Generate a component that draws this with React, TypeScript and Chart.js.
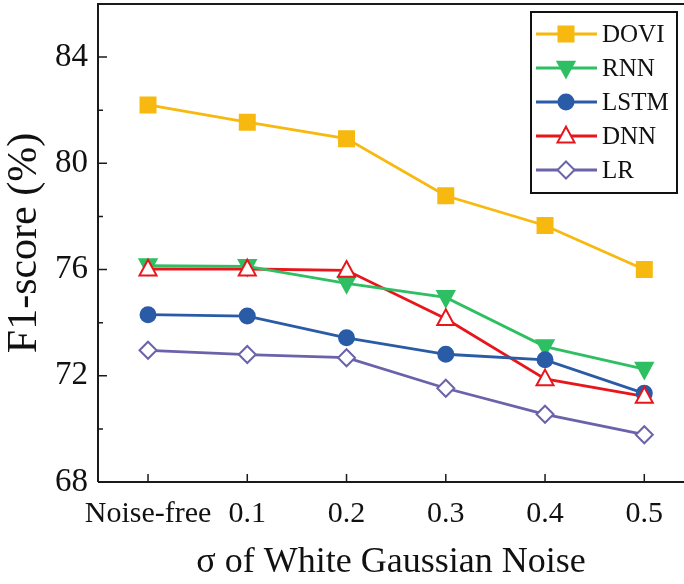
import React, { useEffect, useRef } from "react";
import { Chart, registerables } from "chart.js";

Chart.register(...registerables);

const categories = ["Noise-free", "0.1", "0.2", "0.3", "0.4", "0.5"];
const doviValues = [82.2, 81.55, 80.93, 78.78, 77.66, 76.0];
const rnnValues = [76.15, 76.12, 75.48, 74.95, 73.1, 72.25];
const lstmValues = [74.3, 74.25, 73.43, 72.81, 72.6, 71.34];
const dnnValues = [76.02, 76.02, 75.97, 74.15, 71.88, 71.22];
const lrValues = [72.96, 72.8, 72.68, 71.53, 70.55, 69.78];
const yMajorTicks = [68, 72, 76, 80, 84];
const yMinorTicks = [70, 74, 78, 82];

const FONT = "'Liberation Serif', 'Times New Roman', serif";

function drawMarker(ctx: CanvasRenderingContext2D, style: string, x: number, y: number, r: number, fill: string, stroke: string, lw: number) {
  ctx.save();
  ctx.beginPath();
  if (style === "rect") {
    ctx.rect(x - r, y - r, 2 * r, 2 * r);
  } else if (style === "circle") {
    ctx.arc(x, y, r, 0, Math.PI * 2);
  } else if (style === "triUp") {
    ctx.moveTo(x, y - r * 1.1);
    ctx.lineTo(x + r, y + r * 0.75);
    ctx.lineTo(x - r, y + r * 0.75);
    ctx.closePath();
  } else if (style === "triDown") {
    ctx.moveTo(x, y + r * 1.1);
    ctx.lineTo(x + r, y - r * 0.75);
    ctx.lineTo(x - r, y - r * 0.75);
    ctx.closePath();
  } else if (style === "diamond") {
    ctx.moveTo(x, y - r);
    ctx.lineTo(x + r, y);
    ctx.lineTo(x, y + r);
    ctx.lineTo(x - r, y);
    ctx.closePath();
  }
  ctx.fillStyle = fill;
  ctx.fill();
  ctx.lineWidth = lw;
  ctx.strokeStyle = stroke;
  ctx.stroke();
  ctx.restore();
}

const seriesDefs = [
  { label: "DOVI", data: doviValues, color: "#F7B90F", marker: "rect", fill: "#F7B90F", r: 7.5 },
  { label: "RNN", data: rnnValues, color: "#2FBF63", marker: "triDown", fill: "#2FBF63", r: 8.5 },
  { label: "LSTM", data: lstmValues, color: "#2A5BA6", marker: "circle", fill: "#2A5BA6", r: 7.5 },
  { label: "DNN", data: dnnValues, color: "#E8161C", marker: "triUp", fill: "#FFFFFF", r: 8.5 },
  { label: "LR", data: lrValues, color: "#6A62AA", marker: "diamond", fill: "#FFFFFF", r: 8.5 },
];

const markersPlugin = {
  id: "customMarkers",
  afterDatasetsDraw(chart: any) {
    const ctx = chart.ctx;
    chart.data.datasets.forEach((ds: any, i: number) => {
      const meta = chart.getDatasetMeta(i);
      meta.data.forEach((pt: any) => {
        drawMarker(ctx, ds._marker, pt.x, pt.y, ds._r, ds._fill, ds.borderColor, 2);
      });
    });
  },
};

const framePlugin = {
  id: "frameAndTicks",
  afterDraw(chart: any) {
    const ctx = chart.ctx;
    const a = chart.chartArea;
    const xs = chart.scales.x;
    const ys = chart.scales.y;
    ctx.save();
    ctx.strokeStyle = "#1a1a1a";
    ctx.lineWidth = 2;
    ctx.beginPath();
    ctx.moveTo(a.left, a.bottom);
    ctx.lineTo(a.left, a.top);
    ctx.lineTo(a.right, a.top);
    ctx.moveTo(a.left, a.bottom);
    ctx.lineTo(a.right, a.bottom);
    ctx.stroke();
    ctx.lineWidth = 1.5;
    ctx.beginPath();
    yMajorTicks.forEach((v) => {
      const y = ys.getPixelForValue(v);
      ctx.moveTo(a.left, y);
      ctx.lineTo(a.left + 9, y);
    });
    yMinorTicks.forEach((v) => {
      const y = ys.getPixelForValue(v);
      ctx.moveTo(a.left, y);
      ctx.lineTo(a.left + 5, y);
    });
    categories.forEach((_, i) => {
      const x = xs.getPixelForValue(i);
      ctx.moveTo(x, a.bottom);
      ctx.lineTo(x, a.bottom - 8);
    });
    ctx.stroke();

    // legend
    const bx = 531, by = 12, bw = 146, bh = 181;
    ctx.fillStyle = "#FFFFFF";
    ctx.fillRect(bx, by, bw, bh);
    ctx.lineWidth = 2;
    ctx.strokeStyle = "#111";
    ctx.strokeRect(bx, by, bw, bh);
    chart.data.datasets.forEach((ds: any, i: number) => {
      const y = by + 22 + i * 34;
      ctx.strokeStyle = ds.borderColor;
      ctx.lineWidth = 3;
      ctx.beginPath();
      ctx.moveTo(bx + 5, y);
      ctx.lineTo(bx + 66, y);
      ctx.stroke();
      drawMarker(ctx, ds._marker, bx + 35, y, ds._r, ds._fill, ds.borderColor, 2);
      ctx.fillStyle = "#111";
      ctx.font = "25px " + FONT;
      ctx.textBaseline = "middle";
      ctx.textAlign = "left";
      ctx.fillText(ds.label, bx + 71, y + 1);
    });
    ctx.restore();
  },
};

export default function App() {
  const ref = useRef<HTMLCanvasElement | null>(null);
  useEffect(() => {
    if (!ref.current) return;
    const chart = new Chart(ref.current, {
      type: "line",
      data: {
        datasets: seriesDefs.map((s) => ({
          label: s.label,
          data: s.data.map((v, i) => ({ x: i, y: v })),
          borderColor: s.color,
          backgroundColor: s.fill,
          borderWidth: 2.8,
          pointRadius: 0,
          pointHoverRadius: 0,
          tension: 0,
          _marker: s.marker,
          _fill: s.fill,
          _r: s.r,
        })) as any,
      },
      options: {
        animation: false,
        responsive: false,
        maintainAspectRatio: false,
        layout: { padding: { top: 4, right: 0, left: 0, bottom: 0 } },
        plugins: { legend: { display: false }, tooltip: { enabled: false } },
        scales: {
          x: {
            type: "linear",
            min: -0.504,
            max: 5.4,
            grid: { display: false, drawTicks: false },
            border: { display: false },
            afterBuildTicks: (scale: any) => {
              scale.ticks = categories.map((_, i) => ({ value: i }));
            },
            afterFit: (scale: any) => {
              scale.height = 102;
              scale.paddingLeft = 0;
              scale.paddingRight = 0;
            },
            ticks: {
              padding: 14,
              color: "#111",
              font: { family: FONT, size: 30 },
              maxRotation: 0,
              autoSkip: false,
              callback: (v: any) => categories[Math.round(Number(v))] ?? "",
            },
            title: {
              display: true,
              text: "σ of White Gaussian Noise",
              color: "#111",
              font: { family: FONT, size: 36 },
              padding: { top: 4, bottom: 0 },
            },
          },
          y: {
            min: 68,
            max: 86,
            grid: { display: false, drawTicks: false },
            border: { display: false },
            afterBuildTicks: (scale: any) => {
              scale.ticks = yMajorTicks.map((v) => ({ value: v }));
            },
            afterFit: (scale: any) => {
              scale.width = 98;
              scale.paddingTop = 0;
              scale.paddingBottom = 0;
            },
            ticks: {
              padding: 10,
              color: "#111",
              font: { family: FONT, size: 33 },
            },
            title: {
              display: true,
              text: "F1-score (%)",
              color: "#111",
              font: { family: FONT, size: 42 },
              padding: { top: 0, bottom: 4 },
            },
          },
        },
      },
      plugins: [markersPlugin, framePlugin],
    });
    return () => chart.destroy();
  }, []);
  return (
    <div style={{ position: "absolute", left: 0, top: 0, width: 684, height: 584, background: "#fff" }}>
      <canvas ref={ref} width={684} height={584} />
    </div>
  );
}
